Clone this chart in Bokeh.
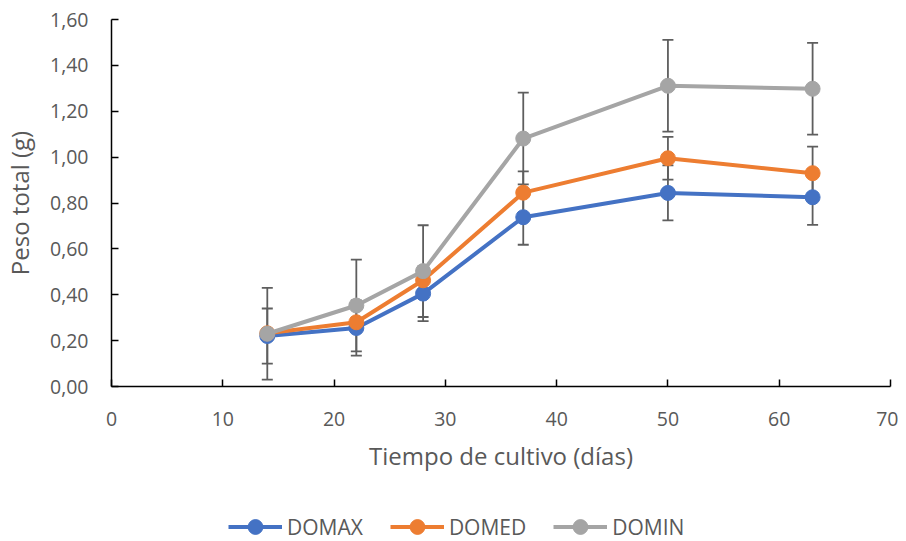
from bokeh.plotting import figure
from bokeh.layouts import column
from bokeh.models import (ColumnDataSource, Whisker, TeeHead, Legend, LegendItem,
                          FixedTicker, CustomJSTickFormatter, Range1d)
from bokeh.embed import file_html
from bokeh.resources import INLINE

# ---- data ----
dias = [14, 22, 28, 37, 50, 63]
domax = [0.220, 0.255, 0.405, 0.738, 0.844, 0.825]
domed = [0.232, 0.280, 0.463, 0.845, 0.995, 0.930]
domin = [0.230, 0.353, 0.503, 1.081, 1.311, 1.298]
domax_err = [0.12, 0.12, 0.12, 0.12, 0.12, 0.12]
domed_err = [0.02, 0.02, 0.04, 0.093, 0.093, 0.116]
domin_err = [0.20, 0.20, 0.20, 0.20, 0.20, 0.20]
series_names = ["DOMAX", "DOMED", "DOMIN"]
colors = ["#4472C4", "#ED7D31", "#A5A5A5"]
x_ticks = [0, 10, 20, 30, 40, 50, 60, 70]
y_ticks = [0.0, 0.2, 0.4, 0.6, 0.8, 1.0, 1.2, 1.4, 1.6]

FONT = "Open Sans"
TXT = "#595959"
ERR = "#5E5E5E"

p = figure(width=898, height=500, output_backend="svg", toolbar_location=None,
           x_range=Range1d(0, 70), y_range=Range1d(0, 1.6),
           min_border_left=111, min_border_right=8, min_border_top=19,
           min_border_bottom=114)
p.outline_line_color = None
p.xgrid.grid_line_color = None
p.ygrid.grid_line_color = None

for ax in (p.xaxis[0], p.yaxis[0]):
    ax.axis_line_color = "#000000"
    ax.axis_line_width = 1.5
    ax.major_tick_line_color = "#000000"
    ax.major_tick_line_width = 1.5
    ax.major_tick_in = 7
    ax.major_tick_out = 0
    ax.minor_tick_line_color = None
    ax.major_label_text_font = FONT
    ax.major_label_text_font_size = "19.5px"
    ax.major_label_text_color = TXT
    ax.axis_label_text_font = FONT
    ax.axis_label_text_font_size = "24px"
    ax.axis_label_text_color = TXT
    ax.axis_label_text_font_style = "normal"

p.xaxis.ticker = FixedTicker(ticks=x_ticks)
p.yaxis.ticker = FixedTicker(ticks=y_ticks)
p.yaxis.formatter = CustomJSTickFormatter(code="return tick.toFixed(2).replace('.', ',');")
p.xaxis.axis_label = "Tiempo de cultivo (días)"
p.yaxis.axis_label = "Peso total (g)"
p.xaxis.major_label_standoff = 25
p.yaxis.major_label_standoff = 23
p.xaxis.axis_label_standoff = 10
p.yaxis.axis_label_standoff = 11

all_vals = [domax, domed, domin]
all_errs = [domax_err, domed_err, domin_err]

# error bars first (under lines/markers)
for vals, errs in zip(all_vals, all_errs):
    src = ColumnDataSource(dict(x=dias,
                                upper=[v + e for v, e in zip(vals, errs)],
                                lower=[v - e for v, e in zip(vals, errs)]))
    w = Whisker(source=src, base="x", upper="upper", lower="lower",
                line_color=ERR, line_width=1.8, level="underlay",
                upper_head=TeeHead(size=11, line_color=ERR, line_width=1.8),
                lower_head=TeeHead(size=11, line_color=ERR, line_width=1.8))
    p.add_layout(w)

sources = []
for name, vals, c in zip(series_names, all_vals, colors):
    src = ColumnDataSource(dict(x=dias, y=vals))
    sources.append(src)
    p.line("x", "y", source=src, line_color=c, line_width=4)
    p.scatter("x", "y", source=src, size=15, fill_color=c, line_color=c)

# ---- legend strip below the chart (same series, out of this strip's view) ----
lg = figure(width=898, height=41, output_backend="svg", toolbar_location=None,
            x_range=Range1d(0, 1), y_range=Range1d(0, 1),
            min_border_left=0, min_border_right=0, min_border_top=0,
            min_border_bottom=0)
lg.axis.visible = False
lg.grid.visible = False
lg.outline_line_color = None
items = []
for name, src, c in zip(series_names, sources, colors):
    l = lg.line("x", "y", source=src, line_color=c, line_width=4)
    s = lg.scatter("x", "y", source=src, size=15, fill_color=c, line_color=c)
    items.append(LegendItem(label=name, renderers=[l, s]))

legend = Legend(items=items, orientation="horizontal", location=(117, -4),
                glyph_width=54, glyph_height=37, label_height=37,
                label_standoff=5, spacing=27,
                padding=0, margin=0, border_line_color=None,
                background_fill_alpha=0,
                label_text_font=FONT, label_text_font_size="21px",
                label_text_color=TXT)
lg.add_layout(legend, "center")

open("out.html", "w").write(file_html(column(p, lg), INLINE))
